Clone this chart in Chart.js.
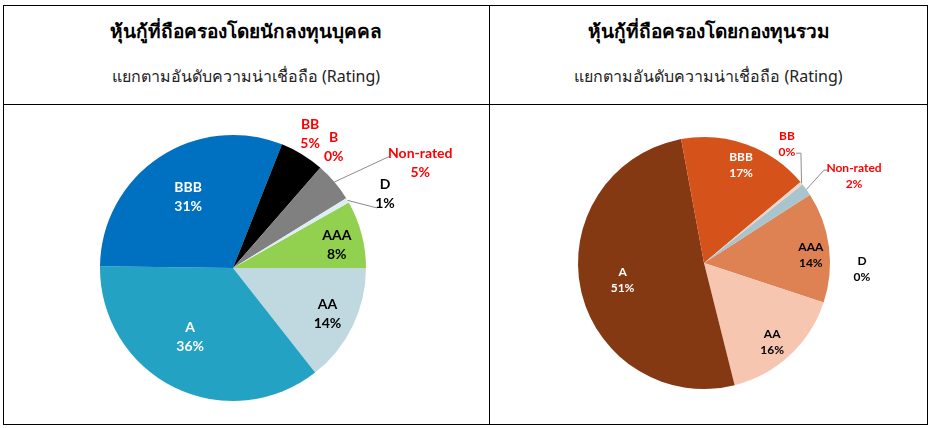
<!DOCTYPE html>
<html>
<head>
<meta charset="utf-8">
<script src="https://cdn.jsdelivr.net/npm/chart.js@4.4.1/dist/chart.umd.min.js"></script>
<style>
  body { margin: 0; background: #fff; width: 931px; height: 428px; position: relative; overflow: hidden; }
  .line { position: absolute; background: #000; }
  .title { position: absolute; width: 486px; text-align: center; font-family: Tahoma, "Noto Sans", "DejaVu Sans", sans-serif; color: #000; }
  .t1 { top: 16px; font-size: 19px; font-weight: bold; }
  .t2 { top: 64px; font-size: 16px; color: #222; }
  .pie { position: absolute; top: 105px; }
</style>
</head>
<body>
<div class="line" style="left:3px;top:5px;width:925px;height:1px"></div>
<div class="line" style="left:3px;top:424px;width:925px;height:1px"></div>
<div class="line" style="left:3px;top:5px;width:1px;height:420px"></div>
<div class="line" style="left:927px;top:5px;width:1px;height:420px"></div>
<div class="line" style="left:489px;top:5px;width:1px;height:420px"></div>
<div class="line" style="left:3px;top:104px;width:925px;height:1px"></div>

<div class="title t1" style="left:3px">หุ้นกู้ที่ถือครองโดยนักลงทุนบุคคล</div>
<div class="title t2" style="left:3px">แยกตามอันดับความน่าเชื่อถือ (Rating)</div>
<div class="title t1" style="left:490px;width:437px">หุ้นกู้ที่ถือครองโดยกองทุนรวม</div>
<div class="title t2" style="left:490px;width:437px">แยกตามอันดับความน่าเชื่อถือ (Rating)</div>

<div class="pie" style="left:4px"><canvas id="pieLeft" width="485" height="318"></canvas></div>
<div class="pie" style="left:490px"><canvas id="pieRight" width="437" height="318"></canvas></div>

<script>
// individual investors
var leftLabels = ['AAA', 'AA', 'A', 'BBB', 'BB', 'B', 'Non-rated', 'D'];
var leftValues = [8.2, 14.4, 35.8, 30.8, 5.4, 0, 4.8, 0.6];

// mutual funds
var rightLabels = ['AAA', 'AA', 'A', 'BBB', 'BB', 'Non-rated', 'D'];
var rightValues = [14.2, 16.0, 51.0, 16.8, 0.4, 1.6, 0];

var leftColors = ['#92d050', '#c0d9e1', '#24a2c4', '#0070c0', '#000000', '#c00000', '#808080', '#dcedf3'];
var rightColors = ['#df8253', '#f6c6b1', '#843912', '#d5521a', '#f1d3c7', '#a8c4cd', '#ffffff'];

var RED = '#ff0000';

// label placement: r = fraction of radius, da = degrees off slice middle, lead = leader points relative to label
var leftPlace = [
    { r: 0.80, da: 2, color: '#000' },
    { r: 0.79, da: 0, color: '#000' },
    { r: 0.61, da: 5.6, color: '#fff' },
    { r: 0.63, da: 1.5, color: '#fff' },
    { r: 1.165, da: -1.5, color: RED },
    { r: 1.186, da: -1.4, color: RED },
    { r: 1.616, da: 10.9, color: RED, lead: [[-31, -6]] },
    { r: 1.271, da: 4.6, color: '#000', lead: [[-8, 14]] }
];
var rightPlace = [
    { r: 0.85, da: 3, color: '#000' },
    { r: 0.83, da: 2.2, color: '#000' },
    { r: 0.66, da: 0.6, color: '#fff' },
    { r: 0.83, da: 1, color: '#fff' },
    { r: 1.15, da: -15.8, color: RED, lead: [[14, 9], [9, 9]] },
    { r: 1.376, da: 5.6, color: RED, lead: [[-30, -6], [-25, -6]] },
    { r: 1.255, da: 35, color: '#000' }
];

var sliceLabels = {
    id: 'sliceLabels',
    afterDatasetsDraw: function (chart, args, opts) {
        var ctx = chart.ctx;
        var values = chart.data.datasets[0].data;
        var total = values.reduce(function (a, b) { return a + b; }, 0);
        var meta = chart.getDatasetMeta(0);
        ctx.save();
        meta.data.forEach(function (arc, i) {
            var p = opts.place[i];
            var mid = (arc.startAngle + arc.endAngle) / 2;
            var R = arc.outerRadius;
            var a = mid + p.da * Math.PI / 180;
            var lx = arc.x + Math.cos(a) * R * p.r;
            var ly = arc.y + Math.sin(a) * R * p.r;
            if (p.lead) {
                ctx.strokeStyle = '#8c8c8c';
                ctx.lineWidth = 1;
                ctx.beginPath();
                ctx.moveTo(arc.x + Math.cos(mid) * R, arc.y + Math.sin(mid) * R);
                p.lead.forEach(function (pt) { ctx.lineTo(lx + pt[0], ly + pt[1]); });
                ctx.stroke();
            }
            ctx.fillStyle = p.color;
            ctx.font = 'bold ' + opts.size + 'px Lato, "Open Sans", sans-serif';
            ctx.textAlign = 'center';
            ctx.textBaseline = 'middle';
            var pct = Math.round(values[i] / total * 100) + '%';
            ctx.fillText(chart.data.labels[i], lx, ly - opts.gap / 2);
            ctx.fillText(pct, lx, ly + opts.gap / 2);
        });
        ctx.restore();
    }
};

function makePie(id, labels, values, colors, rotation, padding, place, size, gap) {
    return new Chart(document.getElementById(id), {
        type: 'pie',
        data: {
            labels: labels,
            datasets: [{
                data: values,
                backgroundColor: colors,
                borderWidth: 0
            }]
        },
        options: {
            responsive: false,
            animation: false,
            rotation: rotation,
            layout: { padding: padding },
            plugins: {
                legend: { display: false },
                tooltip: { enabled: false },
                sliceLabels: { place: place, size: size, gap: gap }
            }
        },
        plugins: [sliceLabels]
    });
}

makePie('pieLeft', leftLabels, leftValues, leftColors, 60.5,
    { top: 30, bottom: 22, left: 96, right: 123 }, leftPlace, 14, 19);
makePie('pieRight', rightLabels, rightValues, rightColors, 57.2,
    { top: 32, bottom: 34, left: 88, right: 97 }, rightPlace, 12, 16);
</script>
</body>
</html>
